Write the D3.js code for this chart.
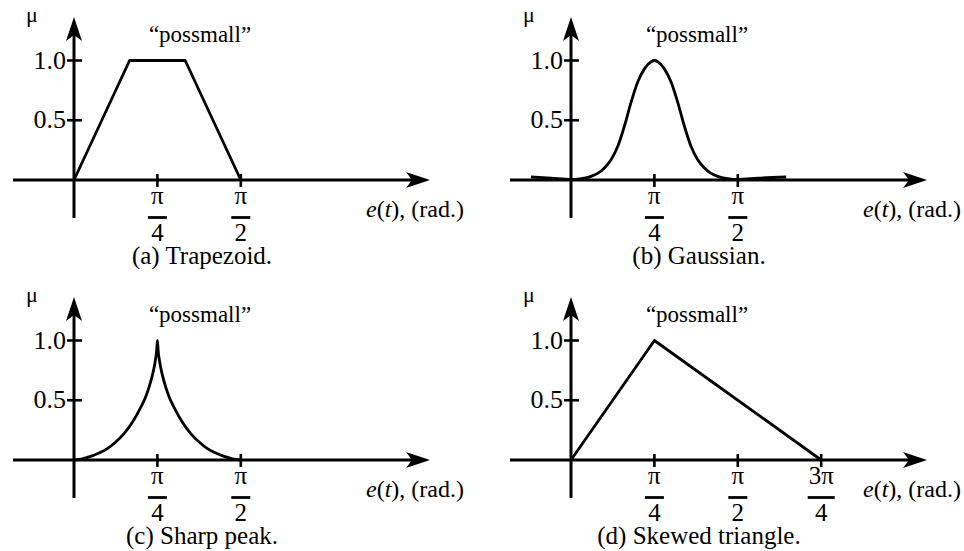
<!DOCTYPE html>
<html>
<head>
<meta charset="utf-8">
<script src="https://cdn.jsdelivr.net/npm/d3@7/dist/d3.min.js"></script>
<style>
  html, body { margin: 0; padding: 0; background: #fff; }
  svg { display: block; }
  text { font-family: "Liberation Serif", "DejaVu Serif", serif; fill: #000; }
</style>
</head>
<body>
<svg id="chart" width="964" height="551"></svg>
<script>
// x values are given in multiples of π (radians / π); μ values are membership grades.

// (a) Trapezoid
const trapezoidX = [0, 1 / 6, 1 / 3, 1 / 2];
const trapezoidMu = [0, 1, 1, 0];

// (b) Gaussian
const gaussianX = [-0.12, -0.06, 0, 0.02, 0.04, 0.06, 0.08, 0.10, 0.12, 0.14, 0.16, 0.18, 0.20, 0.22, 0.24, 0.25,
                   0.26, 0.28, 0.30, 0.32, 0.34, 0.36, 0.38, 0.40, 0.42, 0.44, 0.46, 0.48, 0.50, 0.56, 0.645];
const gaussianMu = [0.025, 0.015, 0.005, 0.007, 0.015, 0.03, 0.055, 0.10, 0.17, 0.28, 0.45, 0.65, 0.82, 0.93, 0.99, 1.0,
                    0.99, 0.93, 0.82, 0.65, 0.45, 0.28, 0.17, 0.10, 0.055, 0.03, 0.015, 0.007, 0.005, 0.015, 0.025];

// (c) Sharp peak
const sharpX = [0, 0.025, 0.05, 0.075, 0.10, 0.125, 0.15, 0.175, 0.20, 0.215, 0.225, 0.235, 0.2425, 0.2475, 0.25,
                0.2525, 0.2575, 0.265, 0.275, 0.285, 0.30, 0.325, 0.35, 0.375, 0.40, 0.425, 0.45, 0.475, 0.50];
const sharpMu = [0, 0.01, 0.03, 0.058, 0.095, 0.15, 0.22, 0.315, 0.44, 0.53, 0.61, 0.71, 0.81, 0.91, 1.0,
                 0.91, 0.81, 0.71, 0.61, 0.53, 0.44, 0.315, 0.22, 0.15, 0.095, 0.058, 0.03, 0.01, 0];

// (d) Skewed triangle
const skewedX = [0, 0.25, 0.75];
const skewedMu = [0, 1, 0];

// axis ticks
const yTicks = [0.5, 1.0];
const yTickLabels = ["0.5", "1.0"];
const xTicksShort = [0.25, 0.5];
const xTicksLong = [0.25, 0.5, 0.75];
const xTickNumer = { 0.25: "π", 0.5: "π", 0.75: "3π" };
const xTickDenom = { 0.25: "4", 0.5: "2", 0.75: "4" };

const setName = "\u201Cpossmall\u201D";
const captions = ["(a) Trapezoid.", "(b) Gaussian.", "(c) Sharp peak.", "(d) Skewed triangle."];

const panels = [
  { ox: 74,  oy: 180, xs: trapezoidX, mu: trapezoidMu, ticks: xTicksShort, curve: d3.curveLinear,     caption: captions[0] },
  { ox: 571, oy: 180, xs: gaussianX,  mu: gaussianMu,  ticks: xTicksShort, curve: d3.curveMonotoneX, caption: captions[1] },
  { ox: 74,  oy: 460, xs: sharpX,     mu: sharpMu,     ticks: xTicksShort, curve: d3.curveMonotoneX, caption: captions[2] },
  { ox: 571, oy: 460, xs: skewedX,    mu: skewedMu,    ticks: xTicksLong,  curve: d3.curveLinear,     caption: captions[3] }
];

const svg = d3.select("#chart");

function drawPanel(p) {
  const g = svg.append("g");
  const x = d3.scaleLinear().domain([0, 0.25]).range([p.ox, p.ox + 83.4]);
  const y = d3.scaleLinear().domain([0, 1]).range([p.oy, p.oy - 119.5]);

  const axisW = 3;
  // horizontal axis with arrowhead
  const xStart = p.ox - 61, xTip = p.ox + 356;
  g.append("line").attr("x1", xStart).attr("x2", xTip - 16)
    .attr("y1", y(0)).attr("y2", y(0)).attr("stroke", "#000").attr("stroke-width", axisW);
  g.append("path")
    .attr("d", `M${xTip},${y(0)} L${xTip - 24},${y(0) - 8} L${xTip - 18},${y(0)} L${xTip - 24},${y(0) + 8} Z`)
    .attr("fill", "#000");
  // vertical axis with arrowhead
  const yBottom = p.oy + 38, yTip = p.oy - 163;
  g.append("line").attr("x1", x(0)).attr("x2", x(0))
    .attr("y1", yBottom).attr("y2", yTip + 16).attr("stroke", "#000").attr("stroke-width", axisW);
  g.append("path")
    .attr("d", `M${x(0)},${yTip} L${x(0) + 8},${yTip + 24} L${x(0)},${yTip + 18} L${x(0) - 8},${yTip + 24} Z`)
    .attr("fill", "#000");

  // y ticks and labels
  yTicks.forEach((t, i) => {
    g.append("line").attr("x1", x(0) - 7).attr("x2", x(0) + 8)
      .attr("y1", y(t)).attr("y2", y(t)).attr("stroke", "#000").attr("stroke-width", 2.6);
    g.append("text").attr("x", x(0) - 8).attr("y", y(t) + 8)
      .attr("text-anchor", "end").attr("font-size", 26).text(yTickLabels[i]);
  });

  // x ticks with fraction labels
  p.ticks.forEach(t => {
    g.append("line").attr("x1", x(t)).attr("x2", x(t))
      .attr("y1", y(0) - 6).attr("y2", y(0) + 7).attr("stroke", "#000").attr("stroke-width", 2.6);
    g.append("text").attr("x", x(t)).attr("y", y(0) + 24)
      .attr("text-anchor", "middle").attr("font-size", 25).text(xTickNumer[t]);
    const bw = xTickNumer[t].length > 1 ? 27 : 19;
    g.append("line").attr("x1", x(t) - bw / 2).attr("x2", x(t) + bw / 2)
      .attr("y1", y(0) + 37.5).attr("y2", y(0) + 37.5).attr("stroke", "#000").attr("stroke-width", 2.8);
    g.append("text").attr("x", x(t)).attr("y", y(0) + 61)
      .attr("text-anchor", "middle").attr("font-size", 25).text(xTickDenom[t]);
  });

  // axis names
  g.append("text").attr("x", x(0) - 48).attr("y", y(0) - 158)
    .attr("font-size", 22).text("μ");
  const xl = g.append("text").attr("x", p.ox + 292).attr("y", y(0) + 37).attr("font-size", 24);
  xl.append("tspan").attr("font-style", "italic").text("e");
  xl.append("tspan").text("(");
  xl.append("tspan").attr("font-style", "italic").text("t");
  xl.append("tspan").text("), (rad.)");

  // set name
  g.append("text").attr("x", p.ox + 126).attr("y", y(0) - 138)
    .attr("text-anchor", "middle").attr("font-size", 23).text(setName);

  // membership function
  const pts = p.xs.map((v, i) => [v, p.mu[i]]);
  g.append("path").datum(pts)
    .attr("d", d3.line().x(d => x(d[0])).y(d => y(d[1])).curve(p.curve))
    .attr("fill", "none").attr("stroke", "#000").attr("stroke-width", 2.8)
    .attr("stroke-linejoin", "round");

  // caption
  g.append("text").attr("x", p.ox + 128).attr("y", y(0) + 84)
    .attr("text-anchor", "middle").attr("font-size", 25).text(p.caption);
}

panels.forEach(drawPanel);
</script>
</body>
</html>
